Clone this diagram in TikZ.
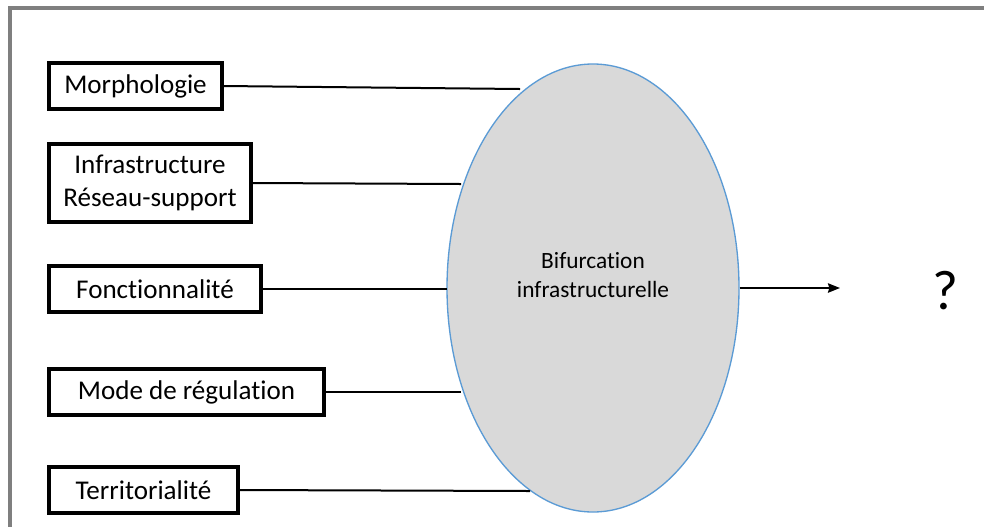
\documentclass[tikz,border=0pt]{standalone}
\usepackage{fontspec}
\setmainfont{Carlito}[Ligatures=NoCommon]
\usetikzlibrary{shapes.geometric,arrows.meta}
\definecolor{framegray}{HTML}{7F7F7F}
\definecolor{ellfill}{HTML}{D9D9D9}
\definecolor{ellline}{HTML}{5B9BD5}
\tikzset{
  factor/.style={draw=black, line width=2.3pt, fill=white, inner sep=0pt, align=center, font=\fontsize{20.3}{24.8}\selectfont},
  link/.style={draw=black, line width=1.5pt},
}
\begin{document}
\begin{tikzpicture}[x=0.75pt,y=-0.75pt]
\useasboundingbox (0,0) rectangle (984,526);
\fill[white] (0,0) rectangle (984,526);
\draw[framegray, line width=2.6pt] (990,8) -- (10,8) -- (10,535);

\node[ellipse, draw=ellline, line width=1pt, fill=ellfill, minimum width=219pt, minimum height=336pt, inner sep=0pt] (ell) at (593,288) {};
\node[align=center, inner sep=0pt, font=\fontsize{17.5}{22}\selectfont] (elltext) at (593,275) {Bifurcation\\infrastructurelle};

\node[factor, minimum width=129.75pt, minimum height=34.5pt] (morph) at (135.5,86) {Morphologie};
\node[factor, minimum width=151.5pt, minimum height=58.5pt] (infra) at (150,183) {Infrastructure\\Réseau-support};
\node[factor, minimum width=159pt, minimum height=34.5pt] (fonct) at (155,289) {Fonctionnalité};
\node[factor, minimum width=206.25pt, minimum height=34.5pt] (mode) at (186.5,392) {Mode de régulation};
\node[factor, minimum width=141.75pt, minimum height=34.5pt] (terr) at (143.5,490) {Territorialité};

\coordinate (em) at (520,89);
\coordinate (ei) at (461,184);
\coordinate (ef) at (447,289);
\coordinate (emr) at (461,392);
\coordinate (et) at (530,491);
\coordinate (arrend) at (840,288);

\draw[link] (morph.east) -- (em);
\draw[link] (infra.east) -- (ei);
\draw[link] (fonct.east) -- (ef);
\draw[link] (mode.east) -- (emr);
\draw[link] (terr.east) -- (et);

\draw[link, -{Stealth[length=9pt, width=7pt, inset=1pt]}] (ell.east) -- (arrend);

\node[font=\fontsize{42}{48}\selectfont, inner sep=0pt] (q) at (945,291) {?};
\end{tikzpicture}
\end{document}
